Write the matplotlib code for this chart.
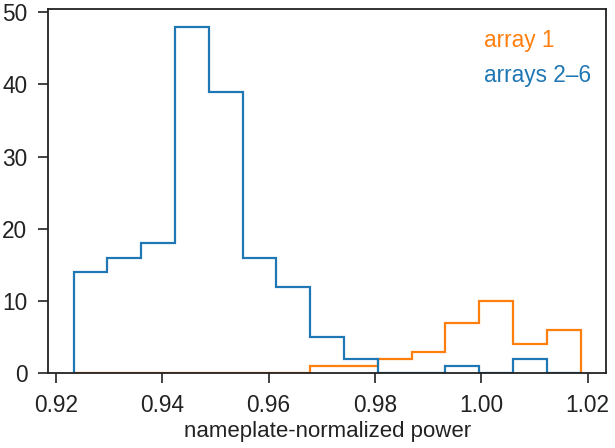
import numpy as np
import matplotlib.pyplot as plt

plt.rcParams['font.family'] = ['Liberation Sans', 'DejaVu Sans']

# shared bin edges (nameplate-normalized power)
bin_edges = [0.9233, 0.92966, 0.93602, 0.94238, 0.94874, 0.9551, 0.96146,
             0.96782, 0.97418, 0.98054, 0.9869, 0.99326, 0.99962, 1.00598,
             1.01234, 1.0187]
counts_array1 = [0, 0, 0, 0, 0, 0, 0, 1, 1, 2, 3, 7, 10, 4, 6]
counts_arrays26 = [14, 16, 18, 48, 39, 16, 12, 5, 2, 0, 0, 1, 0, 2, 0]

fig = plt.figure(figsize=(6.15, 4.48), dpi=100)
ax = fig.add_axes([0.0785, 0.1667, 0.9069, 0.8125])

ax.stairs(counts_array1, bin_edges, color='#ff7f0e', linewidth=1.6)
ax.stairs(counts_arrays26, bin_edges, color='#1f77b4', linewidth=1.6)
ax.margins(x=0.05, y=0.05)
ax.set_ylim(bottom=0)

fs = 16.3
ax.text(0.782, 0.896, 'array 1', color='#ff7f0e', fontsize=fs,
        transform=ax.transAxes, va='baseline')
ax.text(0.782, 0.800, 'arrays 2\u20136', color='#1f77b4', fontsize=fs,
        transform=ax.transAxes, va='baseline')

ax.set_xticks([0.92, 0.94, 0.96, 0.98, 1.00, 1.02])
ax.set_xticklabels(['0.92', '0.94', '0.96', '0.98', '1.00', '1.02'])
ax.set_yticks([0, 10, 20, 30, 40, 50])
ax.tick_params(direction='out', length=7, width=1.2, labelsize=fs,
               colors='#222222', pad=8)
for s in ax.spines.values():
    s.set_linewidth(1.3)
    s.set_color('#222222')
ax.set_xlabel('nameplate-normalized power', fontsize=16, color='#222222',
              labelpad=3)

fig.savefig('out.png', dpi=100)
